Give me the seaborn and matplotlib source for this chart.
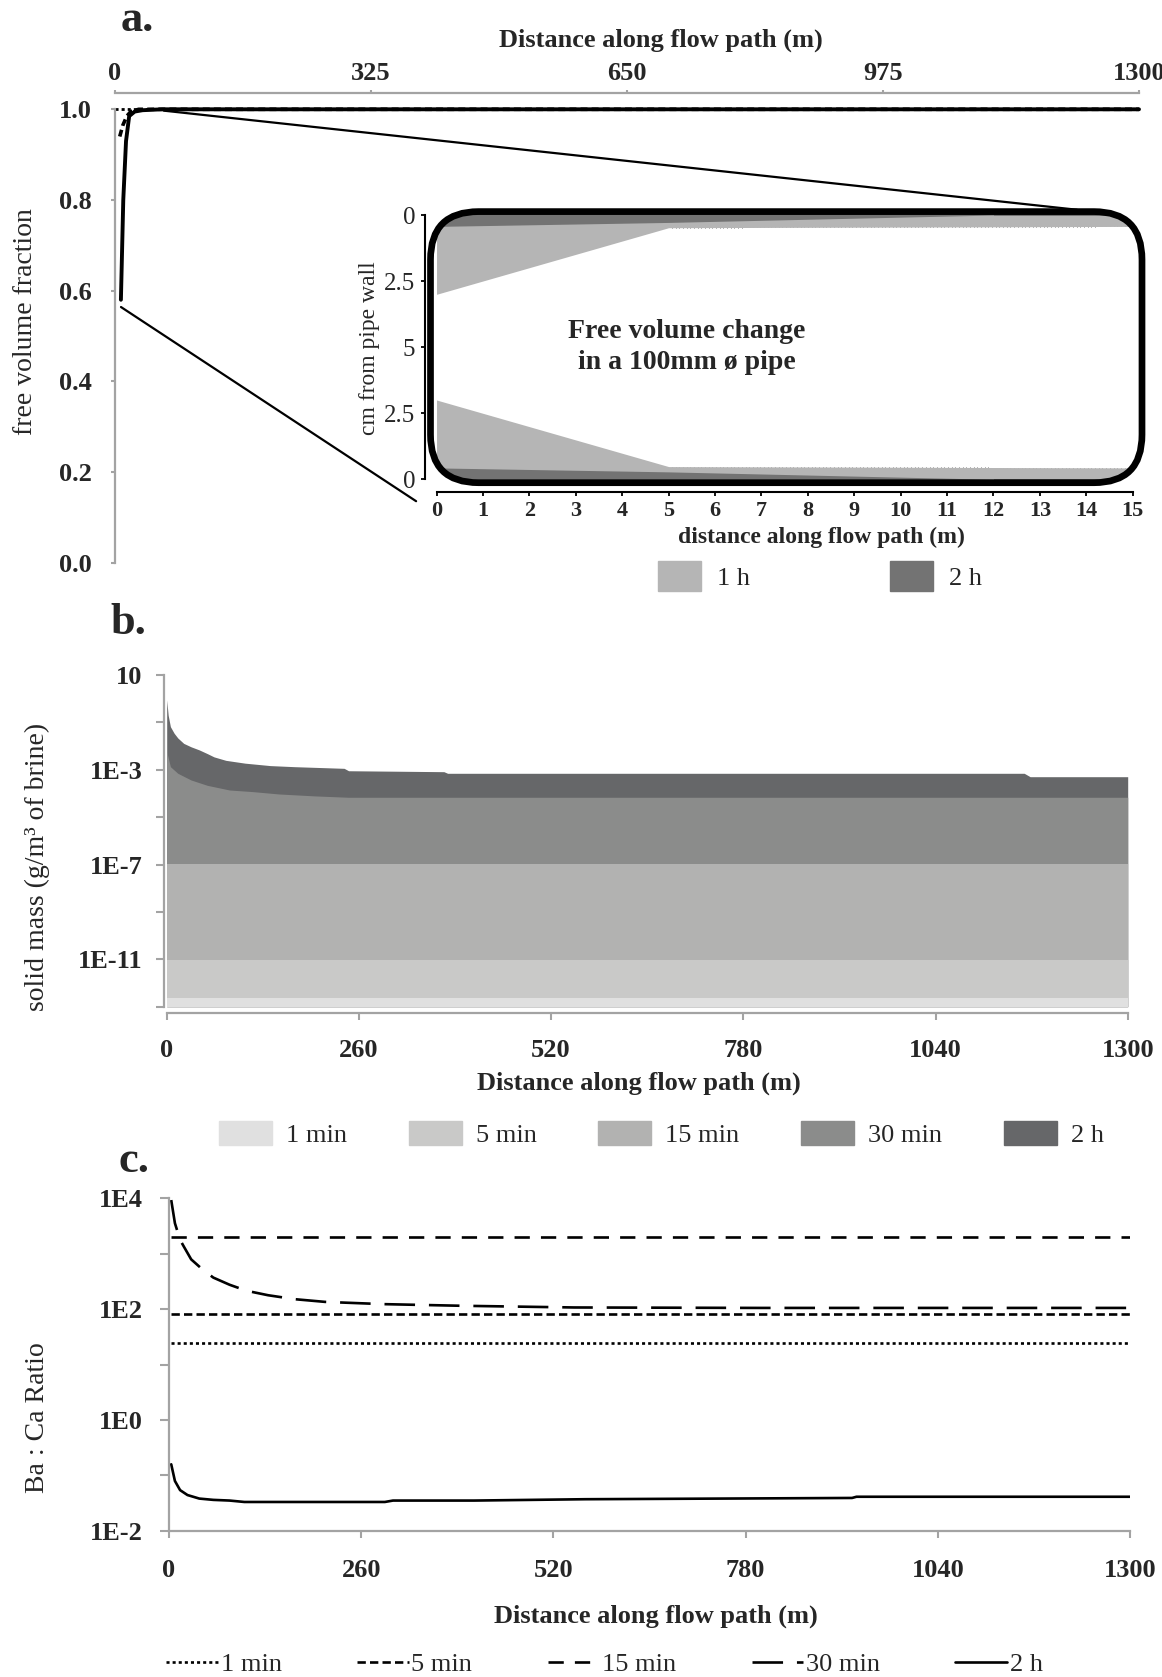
import matplotlib
matplotlib.use("Agg")
import matplotlib.pyplot as plt
import seaborn as sns
from matplotlib.patches import Patch, FancyBboxPatch
from matplotlib.lines import Line2D
from matplotlib.ticker import NullLocator

# ---------------- data ----------------
# (a) free volume fraction along the flow path
a_xticks = [0, 325, 650, 975, 1300]
a_yticks = [0.0, 0.2, 0.4, 0.6, 0.8, 1.0]
a_yticklabels = ["0.0", "0.2", "0.4", "0.6", "0.8", "1.0"]
a_1min_x = [0, 1300]
a_1min_y = [1.0, 1.0]
a_5min_x = [6, 10, 15, 20, 30, 1300]
a_5min_y = [0.94, 0.965, 0.985, 0.995, 1.0, 1.0]
a_2h_x = [7.5, 10.5, 14, 18, 25, 35, 60, 1300]
a_2h_y = [0.58, 0.80, 0.93, 0.985, 0.995, 0.998, 1.0, 1.0]

# inset: deposit thickness (cm) on both walls of a 100 mm pipe, first 15 m
pipe_diameter_cm = 10
pipe_xticks = list(range(16))
pipe_yticks = [0, 2.5, 5, 7.5, 10]
pipe_yticklabels = ["0", "2.5", "5", "2.5", "0"]
pipe_1h_x = [0, 5, 15]
pipe_1h_depth = [3.0, 0.48, 0.43]
pipe_2h_x = [0, 5, 12, 15]
pipe_2h_depth = [0.43, 0.28, 0.0, 0.0]

# (b) solid mass (g/m3 of brine)
b_xticks = [0, 260, 520, 780, 1040, 1300]
b_yticks = [1e1, 1e-1, 1e-3, 1e-5, 1e-7, 1e-9, 1e-11, 1e-13]
b_yticklabels = ["10", "", "1E-3", "", "1E-7", "", "1E-11", ""]
b_1min_x = [0, 1300]
b_1min = [2.3e-13, 2.3e-13]
b_5min_x = [0, 1300]
b_5min = [9e-12, 9e-12]
b_15min_x = [0, 1300]
b_15min = [1.1e-7, 1.1e-7]
b_30min_x = [0, 5, 15, 33, 55, 85, 116, 152, 200, 246, 1300]
b_30min = [5.8e-3, 1.35e-3, 7.1e-4, 3.7e-4, 2.2e-4, 1.4e-4, 1.2e-4, 9.5e-5,
           7.9e-5, 6.9e-5, 6.9e-5]
b_2h_x = [0, 2, 5, 10, 15, 23, 33, 44, 55, 64, 80, 106, 140, 173, 240, 246,
          375, 380, 1160, 1168, 1300]
b_2h = [0.89, 0.20, 0.066, 0.035, 0.022, 0.013, 9.3e-3, 6.9e-3, 4.8e-3, 3.5e-3,
        2.5e-3, 1.9e-3, 1.5e-3, 1.35e-3, 1.15e-3, 9.1e-4, 8.3e-4, 7.1e-4,
        7.1e-4, 5.1e-4, 5.1e-4]

# (c) Ba : Ca ratio
c_xticks = [0, 260, 520, 780, 1040, 1300]
c_yticks = [1e4, 1e3, 1e2, 1e1, 1e0, 1e-1, 1e-2]
c_yticklabels = ["1E4", "", "1E2", "", "1E0", "", "1E-2"]
c_1min_x = [3, 1300]
c_1min = [24.7, 24.7]
c_5min_x = [3, 1300]
c_5min = [83, 83]
c_15min_x = [3, 1300]
c_15min = [2000, 2000]
c_30min_x = [3, 8, 15, 20, 30, 46, 60, 82, 105, 134, 170, 211, 289, 393, 548,
             800, 1300]
c_30min = [9300, 3550, 1780, 1350, 790, 510, 370, 275, 214, 178, 151, 135, 123,
           115, 107, 105, 105]
c_2h_x = [3, 8, 15, 25, 41, 60, 82, 102, 292, 303, 413, 563, 924, 930, 1300]
c_2h = [0.158, 0.079, 0.054, 0.044, 0.038, 0.036, 0.035, 0.033, 0.033, 0.035,
        0.035, 0.037, 0.039, 0.041, 0.041]

series_names = ["1 min", "5 min", "15 min", "30 min", "2 h"]

# ---------------- style ----------------
sns.set_theme(style="white")
plt.rcParams["font.family"] = ["Liberation Serif", "DejaVu Serif"]
plt.rcParams["lines.scale_dashes"] = False
plt.rcParams["axes.linewidth"] = 1.5

W, H, DPI = 1162, 1677, 100
PT = 72 / DPI  # points per pixel
GREY = "#a3a3a3"
TICK_FS = 19
LABEL_FS = 20

area_colors = {"1 min": "#e0e0e0", "5 min": "#c9c9c8", "15 min": "#b2b2b1",
               "30 min": "#8b8c8b", "2 h": "#666769"}
line_styles = {"1 min": (0, (2.2, 2.2)), "5 min": (0, (6, 3)),
               "15 min": (0, (11, 8)), "30 min": (0, (22, 10)), "2 h": "-"}
pipe_colors = {"1 h": "#b5b5b5", "2 h": "#737373"}


def box(l, t, r, b):
    return [l / W, 1 - b / H, (r - l) / W, (b - t) / H]


def grey_axis(ax, spines):
    for s in ["left", "right", "top", "bottom"]:
        ax.spines[s].set_visible(s in spines)
        ax.spines[s].set_color(GREY)
        ax.spines[s].set_linewidth(1.6)


fig = plt.figure(figsize=(W / DPI, H / DPI), dpi=DPI)

# ================= (a) =================
ax_a = fig.add_axes(box(115, 109.3, 1139, 562.8))
sns.lineplot(x=a_1min_x, y=a_1min_y, ax=ax_a, color="black", lw=2.0,
             linestyle=line_styles["1 min"], estimator=None, errorbar=None,
             clip_on=False)
sns.lineplot(x=a_5min_x, y=a_5min_y, ax=ax_a, color="black", lw=2.6,
             linestyle=(0, (5, 3)), estimator=None, errorbar=None,
             clip_on=False)
sns.lineplot(x=a_2h_x, y=a_2h_y, ax=ax_a, color="black", lw=2.8,
             estimator=None, errorbar=None, clip_on=False)
ax_a.set_xlim(0, 1300)
ax_a.set_ylim(0, 1)
grey_axis(ax_a, ["left", "top"])
ax_a.spines["top"].set_position(("outward", 16 * PT))
ax_a.xaxis.tick_top()
ax_a.xaxis.set_label_position("top")
ax_a.set_xticks(a_xticks, [str(v) for v in a_xticks], fontsize=TICK_FS,
                fontweight="bold")
ax_a.set_yticks(a_yticks, a_yticklabels, fontsize=TICK_FS, fontweight="bold")
ax_a.tick_params(axis="x", which="major", direction="out", length=3.3 * PT,
                 width=1.5, color=GREY, pad=3.5, top=True, bottom=False)
ax_a.tick_params(axis="y", which="major", direction="out", length=4 * PT,
                 width=1.5, color=GREY, pad=14, left=True)
ax_a.set_xlabel("Distance along flow path (m)", fontsize=TICK_FS,
                fontweight="bold", va="center")
ax_a.xaxis.set_label_coords(0.533, 1.152)
ax_a.set_ylabel("free volume fraction", fontsize=LABEL_FS, va="center")
ax_a.yaxis.set_label_coords(-0.087, 0.533)

# ---- inset: pipe cross-section ----
ax_in = fig.add_axes(box(430.5, 211.6, 1142, 482.7))
ax_in.patch.set_visible(False)
ax_in.set_xlim(-0.13, 15.2)
ax_in.set_ylim(10.13, -0.13)

in_w, in_h = 711.5, 271.1
radius = 48
frame = FancyBboxPatch((0, 0), 1, 1,
                       boxstyle=f"round,pad=0,rounding_size={radius / in_w}",
                       mutation_aspect=in_w / in_h, transform=ax_in.transAxes,
                       fill=False, ec="black", lw=6.7 * PT, clip_on=False,
                       zorder=6)
ax_in.add_patch(frame)

top_1h = [d for d in pipe_1h_depth]
bot_1h = [pipe_diameter_cm - d for d in pipe_1h_depth]
top_2h = [d for d in pipe_2h_depth]
bot_2h = [pipe_diameter_cm - d for d in pipe_2h_depth]
fills = [
    ax_in.fill_between(pipe_1h_x, -0.5, top_1h, color=pipe_colors["1 h"], lw=0),
    ax_in.fill_between(pipe_1h_x, bot_1h, pipe_diameter_cm + 0.5,
                       color=pipe_colors["1 h"], lw=0),
    ax_in.fill_between(pipe_2h_x, -0.5, top_2h, color=pipe_colors["2 h"], lw=0),
    ax_in.fill_between(pipe_2h_x, bot_2h, pipe_diameter_cm + 0.5,
                       color=pipe_colors["2 h"], lw=0),
]
for f in fills:
    f.set_clip_path(frame)

for s in ["top", "right"]:
    ax_in.spines[s].set_visible(False)
for s in ["left", "bottom"]:
    ax_in.spines[s].set_color("black")
    ax_in.spines[s].set_linewidth(1.5)
ax_in.spines["bottom"].set_position(("outward", 9.6 * PT))
ax_in.spines["left"].set_position(("outward", 5.5 * PT))
ax_in.spines["bottom"].set_bounds(0, 15)
ax_in.spines["left"].set_bounds(0, 10)
ax_in.set_xticks(pipe_xticks, [str(v) for v in pipe_xticks], fontsize=16,
                 fontweight="bold")
ax_in.set_yticks(pipe_yticks, pipe_yticklabels, fontsize=18)
ax_in.tick_params(axis="x", direction="out", length=3, width=1.3,
                  color="black", pad=3, bottom=True)
ax_in.tick_params(axis="y", direction="out", length=3, width=1.3,
                  color="black", pad=4, left=True)
ax_in.set_xlabel("distance along flow path (m)", fontsize=17,
                 fontweight="bold", va="center")
ax_in.xaxis.set_label_coords(0.55, -0.20)
ax_in.set_ylabel("cm from pipe wall", fontsize=17, va="center")
ax_in.yaxis.set_label_coords(-0.0864, 0.497)
ax_in.text(5.39, 4.99, "Free volume change\nin a 100mm ø pipe", fontsize=20,
           fontweight="bold", ha="center", va="center", linespacing=1.3)

# lines tying the first metres of the main curve to the inset
to_fig = fig.transFigure.inverted()
for xy_a, xy_in in [((62, 0.997), (13.8, -0.2)), ((7.6, 0.564), (-0.44, 10.83))]:
    p0 = to_fig.transform(ax_a.transData.transform(xy_a))
    p1 = to_fig.transform(ax_in.transData.transform(xy_in))
    fig.add_artist(Line2D([p0[0], p1[0]], [p0[1], p1[1]],
                          transform=fig.transFigure, color="black", lw=1.6,
                          zorder=3))

fig.legend(handles=[Patch(color=pipe_colors[k], label=k) for k in pipe_colors],
           ncol=2, loc="center left", bbox_to_anchor=(658 / W, 1 - 576 / H),
           frameon=False, fontsize=TICK_FS, handlelength=1.63,
           handleheight=1.33, handletextpad=0.6, columnspacing=5.3,
           borderpad=0, borderaxespad=0)

# ================= (b) =================
ax_b = fig.add_axes(box(166.7, 675, 1127.7, 1006.7))
ax_b.set_yscale("log")
b_floor = 1e-13
for name, xs, ys in [("2 h", b_2h_x, b_2h), ("30 min", b_30min_x, b_30min),
                     ("15 min", b_15min_x, b_15min),
                     ("5 min", b_5min_x, b_5min), ("1 min", b_1min_x, b_1min)]:
    ax_b.fill_between(xs, b_floor, ys, color=area_colors[name], lw=0)
ax_b.set_xlim(0, 1300)
ax_b.set_ylim(1e-13, 10)
grey_axis(ax_b, ["left", "bottom"])
ax_b.spines["bottom"].set_position(("outward", 6 * PT))
ax_b.spines["left"].set_position(("outward", 3 * PT))
ax_b.yaxis.set_minor_locator(NullLocator())
ax_b.set_yticks(b_yticks, b_yticklabels, fontsize=TICK_FS, fontweight="bold")
ax_b.set_xticks(b_xticks, [str(v) for v in b_xticks], fontsize=TICK_FS,
                fontweight="bold")
ax_b.tick_params(axis="y", direction="out", length=8 * PT, width=1.5,
                 color=GREY, pad=9.6, left=True)
ax_b.tick_params(axis="x", direction="out", length=7 * PT, width=1.5,
                 color=GREY, pad=14, bottom=True)
ax_b.set_xlabel("Distance along flow path (m)", fontsize=TICK_FS,
                fontweight="bold", va="center")
ax_b.xaxis.set_label_coords(0.4915, -0.230)
ax_b.set_ylabel("solid mass (g/m³ of brine)", fontsize=LABEL_FS, va="center")
ax_b.yaxis.set_label_coords(-0.1344, 0.421)

fig.legend(handles=[Patch(color=area_colors[k], label=k) for k in series_names],
           ncol=5, loc="center left", bbox_to_anchor=(219 / W, 1 - 1134 / H),
           frameon=False, fontsize=TICK_FS, handlelength=2.0,
           handleheight=1.02, handletextpad=0.53, columnspacing=2.35,
           borderpad=0, borderaxespad=0)

# ================= (c) =================
ax_c = fig.add_axes(box(169, 1198.3, 1130, 1530.7))
ax_c.set_yscale("log")
for name, xs, ys in [("1 min", c_1min_x, c_1min), ("5 min", c_5min_x, c_5min),
                     ("15 min", c_15min_x, c_15min),
                     ("30 min", c_30min_x, c_30min), ("2 h", c_2h_x, c_2h)]:
    sns.lineplot(x=xs, y=ys, ax=ax_c, color="black", lw=1.9,
                 linestyle=line_styles[name], estimator=None, errorbar=None)
ax_c.set_xlim(0, 1300)
ax_c.set_ylim(1e-2, 1e4)
grey_axis(ax_c, ["left", "bottom"])
ax_c.yaxis.set_minor_locator(NullLocator())
ax_c.set_yticks(c_yticks, c_yticklabels, fontsize=TICK_FS, fontweight="bold")
ax_c.set_xticks(c_xticks, [str(v) for v in c_xticks], fontsize=TICK_FS,
                fontweight="bold")
ax_c.tick_params(axis="y", direction="out", length=9 * PT, width=1.5,
                 color=GREY, pad=12.5, left=True)
ax_c.tick_params(axis="x", direction="out", length=7 * PT, width=1.5,
                 color=GREY, pad=15, bottom=True)
ax_c.set_xlabel("Distance along flow path (m)", fontsize=TICK_FS,
                fontweight="bold", va="center")
ax_c.xaxis.set_label_coords(0.507, -0.2566)
ax_c.set_ylabel("Ba : Ca Ratio", fontsize=LABEL_FS, va="center")
ax_c.yaxis.set_label_coords(-0.1368, 0.339)

fig.legend(handles=[Line2D([], [], color="black", lw=1.9,
                           linestyle=line_styles[k], label=k)
                    for k in series_names],
           ncol=5, loc="center left", bbox_to_anchor=(166 / W, 1 - 1664 / H),
           frameon=False, fontsize=TICK_FS, handlelength=1.97,
           handletextpad=0.1, columnspacing=2.85, borderpad=0,
           borderaxespad=0)

# panel letters
for letter, (px, py) in [("a.", (137, 20)), ("b.", (128, 623)),
                         ("c.", (134, 1161))]:
    fig.text(px / W, 1 - py / H, letter, fontsize=32, fontweight="bold",
             ha="center", va="center")

fig.savefig("out.png", dpi=DPI)
